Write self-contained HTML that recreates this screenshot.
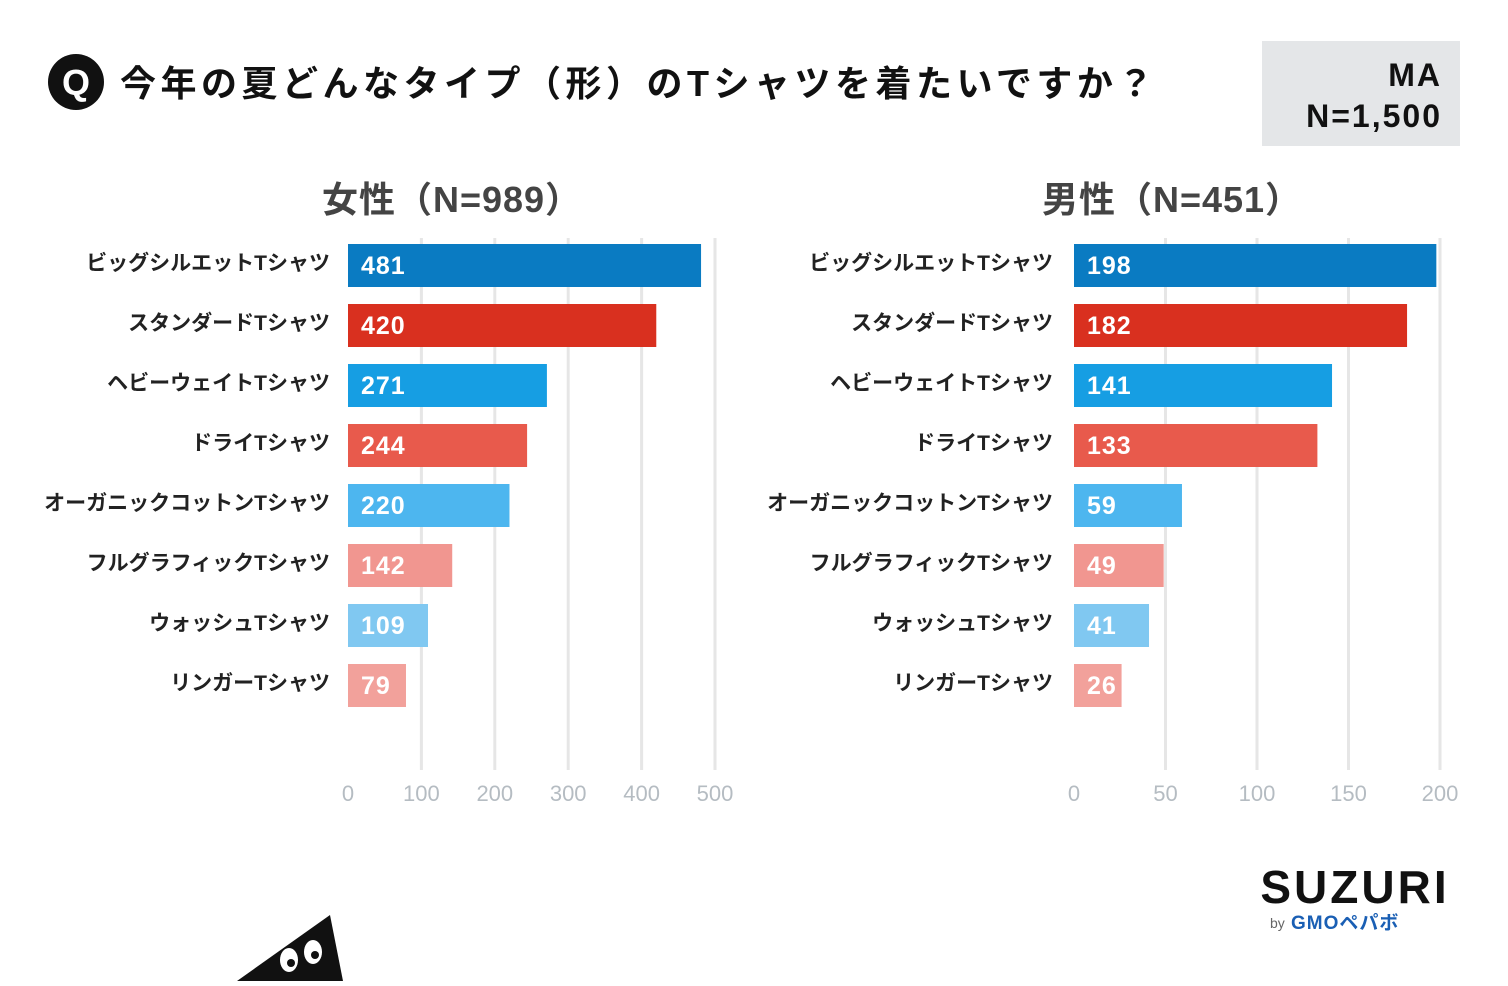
<!DOCTYPE html>
<html><head><meta charset="utf-8">
<style>
body{margin:0;background:#fff;width:1508px;height:981px;overflow:hidden;font-family:"Liberation Sans","Noto Sans CJK JP",sans-serif;}
svg text{font-family:"Liberation Sans","Noto Sans CJK JP",sans-serif;}
</style></head>
<body>
<svg id="chart" width="1508" height="981" viewBox="0 0 1508 981" xmlns="http://www.w3.org/2000/svg">
  <g>
    <circle cx="76" cy="82" r="28" fill="#111"/>
    <text x="76" y="95" font-size="36" font-weight="bold" fill="#fff" text-anchor="middle">Q</text>
  </g>
  <text x="120" y="96" font-size="36" font-weight="bold" fill="#111" letter-spacing="4.5">今年の夏どんなタイプ（形）のTシャツを着たいですか？</text>
  <g>
    <rect x="1262" y="41" width="198" height="105" fill="#e4e6e8"/>
    <text x="1442" y="86" font-size="32" font-weight="bold" fill="#111" text-anchor="end" letter-spacing="2">MA</text>
    <text x="1442" y="127" font-size="32" font-weight="bold" fill="#111" text-anchor="end" letter-spacing="2">N=1,500</text>
  </g>
  <text x="452" y="212" font-size="36" font-weight="bold" fill="#444" text-anchor="middle" letter-spacing="1">女性（N=989）</text>
  <text x="1172" y="212" font-size="36" font-weight="bold" fill="#444" text-anchor="middle" letter-spacing="1">男性（N=451）</text>
  <g id="panels"></g>
  <g>
    <text x="1355" y="903" font-size="46" font-weight="bold" fill="#111" text-anchor="middle" letter-spacing="3">SUZURI</text>
    <text x="1270" y="928" font-size="14" fill="#666">by</text>
    <text x="1291" y="929" font-size="19" font-weight="bold" fill="#1a5fb4" letter-spacing="1">GMOペパボ</text>
  </g>
  <g>
    <polygon points="237,981 330,915 343,981" fill="#111"/>
    <ellipse cx="289" cy="960" rx="9" ry="12" fill="#fff"/>
    <ellipse cx="313" cy="952" rx="9" ry="12" fill="#fff"/>
    <circle cx="291" cy="963" r="4" fill="#111"/>
    <circle cx="315" cy="955" r="4" fill="#111"/>
  </g>
</svg>
<script>
const categories = ["ビッグシルエットTシャツ","スタンダードTシャツ","ヘビーウェイトTシャツ","ドライTシャツ","オーガニックコットンTシャツ","フルグラフィックTシャツ","ウォッシュTシャツ","リンガーTシャツ"];
const femaleValues = [481,420,271,244,220,142,109,79];
const maleValues = [198,182,141,133,59,49,41,26];
const femaleTicks = [0,100,200,300,400,500];
const maleTicks = [0,50,100,150,200];
const barColors = ["#0a7bc2","#d9301f","#169ee3","#e85a4c","#4db6ef","#f19690","#80c8f1","#f2a19b"];

const NS = "http://www.w3.org/2000/svg";
const root = document.getElementById("panels");
function mk(tag, attrs, parent){const e=document.createElementNS(NS,tag);for(const k in attrs)e.setAttribute(k,attrs[k]);parent.appendChild(e);return e;}

function drawPanel(prefix, values, ticks, x0, x1, labelRight){
  const max = ticks[ticks.length-1];
  const xs = v => x0 + (v/max)*(x1-x0);
  const g = mk("g",{},root);
  
  
  ticks.forEach(t=>{
    if(t>0){
      const l = mk("line",{x1:xs(t),x2:xs(t),y1:238,y2:770,stroke:"#e6e6e6","stroke-width":3},g);
      
      
    }
    const tx = mk("text",{x:xs(t),y:801,"font-size":22,fill:"#b5bcc2","text-anchor":"middle"},g);
    tx.textContent = t;
    
    
  });
  categories.forEach((c,i)=>{
    const y = 244 + i*60;
    const lab = mk("text",{x:labelRight,y:y+26,"font-size":21,"font-weight":"bold",fill:"#222","text-anchor":"end"},g);
    lab.textContent = c;
    
    
    const b = mk("rect",{x:x0,y:y,width:xs(values[i])-x0,height:43,fill:barColors[i]},g);
    
    
    const v = mk("text",{x:x0+13,y:y+30,"font-size":25,"font-weight":"bold",fill:"#fff","letter-spacing":1},g);
    v.textContent = values[i];
    
    
  });
}
drawPanel("female", femaleValues, femaleTicks, 348, 715, 330);
drawPanel("male", maleValues, maleTicks, 1074, 1440, 1053);
</script>
</body></html>
